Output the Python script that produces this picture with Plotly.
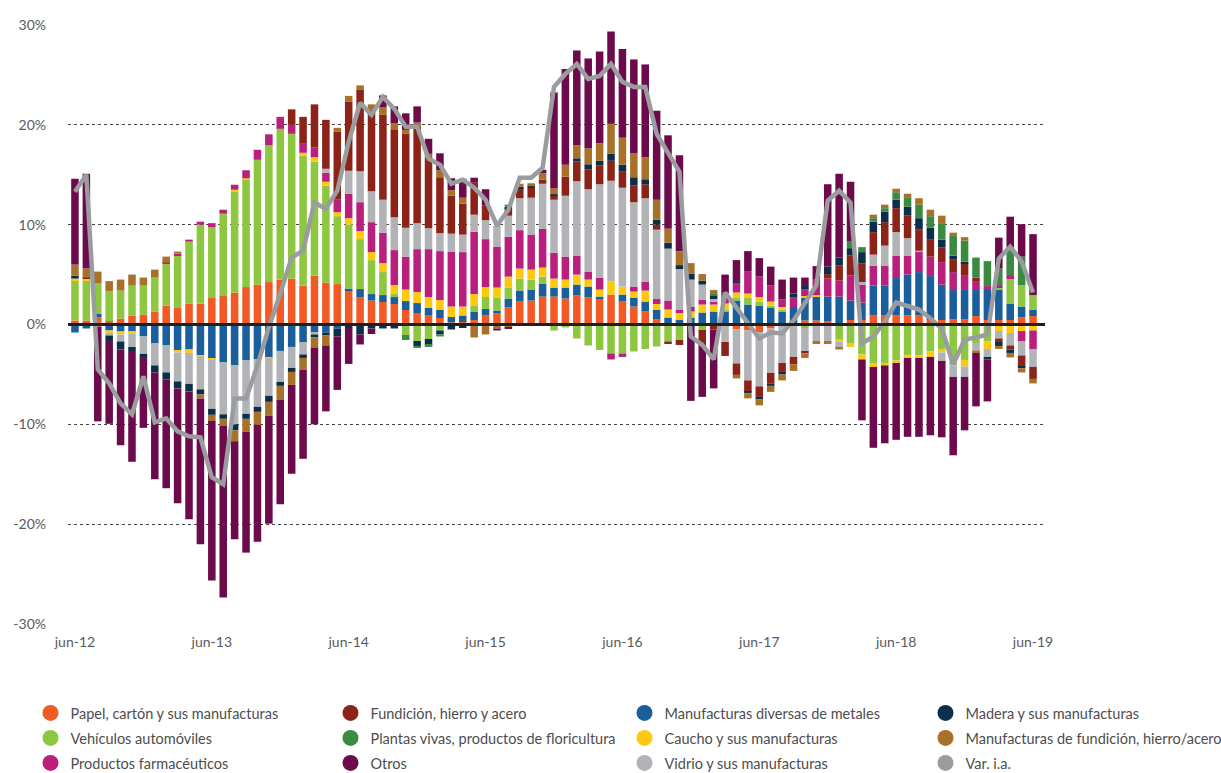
import plotly.graph_objects as go

# ---------------- data ----------------
MESES = ["ene", "feb", "mar", "abr", "may", "jun", "jul", "ago", "sep", "oct", "nov", "dic"]
months = [f"{MESES[(5 + i) % 12]}-{12 + (5 + i) // 12:02d}" for i in range(85)]  # jun-12 .. jun-19

tick_labels = ["jun-12", "jun-13", "jun-14", "jun-15", "jun-16", "jun-17", "jun-18", "jun-19"]
y_ticks = [30, 20, 10, 0, -10, -20, -30]
y_tick_text = ["30%", "20%", "10%", "0%", "-10%", "-20%", "-30%"]

papel = [0.4, 0.4, 0.7, 0.35, 0.6, 0.9, 1.0, 1.3, 1.9, 1.65,
         2.1, 2.1, 2.65, 2.85, 3.2, 3.75, 4.0, 4.25, 4.5, 4.6,
         3.9, 4.9, 4.2, 4.05, 3.45, 2.75, 2.4, 2.25, 2.05, 1.45,
         1.15, 0.95, 0.65, 0.2, 0.25, 0.45, 0.95, 1.1, 1.7, 2.3,
         2.4, 2.8, 2.8, 2.6, 2.9, 2.75, 2.6, 3.0, 2.3, 1.8,
         1.3, 0.55, 0.15, 0, 0, 0, 0, 0, -0.5, -0.6,
         -0.75, -0.4, 0, 0, 0.4, 0.4, 0.3, 0, 0.45, 0.45,
         0.9, 0.9, 0.9, 0.9, 0.9, 0.45, 0.45, 0.5, 0.5, 0.85,
         0.45, 0.45, 0.45, 0.7, 0.85]

metales = [-0.8, -0.4, 0.4, -0.6, -0.7, -0.75, -1.2, -1.9, -2.1, -2.6,
           -2.5, -3.1, -3.45, -3.8, -4.1, -3.6, -3.5, -3.35, -2.65, -2.25,
           -1.8, -0.8, -0.8, -0.4, 0.15, 0.8, 0.65, 0.7, 0.7, 0.9,
           1.0, 0.7, 0.8, 0.55, 0.65, 0.8, 0.6, 0.3, 0.9, 1.1,
           1.1, 1.3, 0.9, 1.1, 1.1, 1.05, 0.2, 0, 0.7, 0.9,
           1.0, 0.9, 0.55, 0.45, 0.7, 1.2, 1.3, 1.3, 2.4, 2.0,
           1.9, 1.75, 1.3, 1.75, 2.35, 2.45, 2.5, 2.8, 1.95, 1.75,
           3.0, 3.0, 3.75, 4.1, 4.35, 4.4, 3.55, 2.95, 2.95, 2.6,
           3.1, 3.1, 1.65, 1.1, 0.65]

vehiculos = [4.0, 4.0, 3.0, 3.0, 2.8, 3.0, 2.9, 3.4, 4.2, 5.2,
             6.2, 7.9, 7.1, 8.25, 10.1, 10.8, 12.5, 13.7, 15.1, 14.5,
             13.0, 11.4, 9.7, 6.8, 6.4, 5.0, 3.4, 2.3, 0.3, -1.05,
             -1.65, -1.45, -0.6, 0, 0, 0.6, 1.2, 1.3, 1.1, 1.2,
             1.0, 0.7, -0.6, -0.3, -1.4, -2.1, -2.55, -2.9, -2.9, -2.7,
             -2.45, -2.2, -1.7, -1.55, -0.15, -0.55, 0, 0.2, 0.25, 0.65,
             0.4, 0.15, 0.2, 0, -0.35, 0, 0, -1.5, -1.85, -3.0,
             -3.85, -3.95, -3.6, -3.1, -3.1, -2.7, -2.45, -4.1, -3.55, -1.85,
             -1.7, 0.15, 2.45, 2.15, 1.45]

caucho = [0.2, 0.2, -0.2, -0.25, -0.3, -0.2, 0, 0, 0, -0.2,
          -0.35, -0.1, -0.1, 0, 0.2, 0.1, 0, -0.05, 0, 0,
          0.3, 0.45, 0.4, 0.4, 0.65, 0.8, 0.8, 0.9, 0.9, 1.15,
          1.1, 1.1, 1.0, 1.05, 0.9, 1.2, 1.0, 1.0, 1.1, 1.0,
          1.0, 0.9, 0.9, 0.8, 1.0, 0.7, 0.7, 1.3, 0.8, 0.6,
          1.1, 0.6, 0.8, 0.7, 0.6, 0.8, 0.7, 0.6, 0.55, 0.45,
          0.45, 0.4, 0.25, 0, 0.1, 0.1, 0, -0.2, -0.4, -0.5,
          -0.4, -0.15, -0.25, -0.25, -0.25, -0.55, -0.35, 0, -0.65, 0,
          -0.75, -0.65, -0.85, -0.65, -0.6]

farma = [0, 0, 0, 0, 0, 0, 0, 0, 0.1, 0.25,
         0.2, 0.3, 0.4, 0.4, 0.5, 0.8, 1.0, 1.1, 1.2, 0.9,
         0.9, 1.0, 0.9, 1.3, 2.45, 2.9, 3.0, 3.05, 3.5, 3.3,
         4.3, 4.8, 4.9, 5.5, 5.45, 6.25, 4.8, 4.1, 4.0, 3.85,
         3.5, 3.9, 2.6, 2.3, 1.9, 0.8, 1.2, -0.6, -0.35, 0.5,
         0.9, 0.5, 0.9, 0.3, 0.5, 0.5, 0.25, 0.8, 0.9, 2.25,
         2.05, 1.6, 0.75, 1.0, 0.65, 1.6, 1.8, 1.6, 2.5, 1.8,
         2.0, 2.0, 2.25, 1.9, 2.05, 1.95, 2.25, 1.8, 1.5, 0.9,
         0.3, 0.15, 0.4, -1.05, -1.85]

vidrio = [0, 0, 0, -0.25, -0.7, -1.3, -1.75, -2.2, -2.7, -2.9,
          -3.1, -3.3, -4.9, -5.2, -5.9, -5.35, -4.75, -3.75, -3.1, -2.1,
          -1.2, -0.2, 0.4, 0, 2.3, 3.1, 3.1, 3.3, 3.3, 2.9,
          2.6, 2.1, 1.8, 1.8, 1.75, 1.7, 1.9, 2.1, 2.1, 3.2,
          3.7, 4.5, 5.3, 6.1, 7.45, 8.25, 9.35, 10.1, 9.9, 8.45,
          8.35, 6.95, 5.2, 4.1, 2.7, 1.5, 0.3, -1.75, -3.4, -5.0,
          -5.45, -4.45, -3.85, -3.25, -2.35, -1.65, -1.65, -0.65, 0, 0.25,
          1.1, 2.0, 2.35, 1.75, 0.1, 0, -0.85, -1.15, -1.05, -0.75,
          -0.8, -0.75, -1.25, -1.4, -1.8]

fundicion = [0, 0.1, 0, 0, 0, 0, 0, 0, 0, 0,
             0, 0, 0, 0, 0, 0, 0, 0, 0, 1.55,
             2.7, 4.3, 4.9, 6.75, 6.9, 8.15, 8.2, 8.5, 8.8, 9.4,
             9.7, 7.1, 5.6, 3.8, 3.1, 3.2, 1.5, 0, 0.75, 1.0,
             1.0, 0.4, 0.4, 1.9, 2.0, 2.0, 1.9, 2.0, 1.6, 1.7,
             1.4, 0.5, -0.25, -0.5, 0, -1.5, -0.5, -1.4, -1.15, -1.15,
             -1.05, -1.05, -0.9, -0.75, -0.2, 0, 0.45, 1.5, 2.0, 1.85,
             2.25, 2.35, 2.4, 2.25, 2.15, 1.75, 1.45, 1.3, 1.2, 0.35,
             0, -0.35, -0.4, -1.15, -1.2]

madera = [0.3, 0, 0, -0.55, -0.8, -0.5, -0.4, -0.7, -0.7, -0.7,
          -0.75, -0.5, -0.6, -0.45, -0.6, -0.5, -0.5, -0.6, -0.4, -0.4,
          -0.35, -0.3, -0.3, -0.8, -0.35, -1.0, -0.4, -0.4, -0.4, 0,
          -0.5, -0.6, -0.4, -0.5, -0.35, 0, 0, 0, 0.15, 0.15,
          0.15, 0, 0.15, 0, 0.3, 0.5, 0.45, 0.7, 0.7, 0.8,
          0.5, 0.5, 0.6, 0.4, 0.6, 0.4, 0.4, 0.2, 0.25, -0.15,
          -0.25, -0.25, -0.25, 0.35, 0.45, 0, 0.75, 0.8, 0.75, 1.15,
          1.05, 1.05, 0.85, 0.9, 1.1, 1.15, 0.8, 0.35, 0.15, 0,
          -0.25, -0.4, -0.35, -0.15, 0]

plantas = [0, 0, 0, 0, 0, 0, 0, 0, 0, 0,
           0, 0, 0, 0, 0, 0, 0, 0, 0, 0,
           0, 0, 0, 0, 0, 0, 0, 0, 0, -0.5,
           -0.2, -0.2, -0.2, 0, 0, 0, 0, 0, 0.2, 0,
           0, 0, 0, 0, 0, 0, 0, 0, 0, 0,
           0, 0, 0, 0, 0, 0, 0.1, 0, 0, 0,
           0, 0, 0, 0, 0, 0, 0, 0, 0.65, 0.5,
           0.35, 0.35, 0.75, 0.95, 1.35, 1.15, 1.65, 2.05, 2.1, 2.0,
           2.5, 1.75, 2.8, 2.85, 0]

manuf_fundicion = [1.1, 0.9, 1.2, 1.0, 1.1, 1.1, 0.8, 0.8, 0.6, 0.2,
                   0, -0.4, -0.6, -0.7, -1.1, -1.3, -1.3, -1.4, -1.35, -1.3,
                   -1.2, -1.0, -1.0, 0.4, 0.6, 0.45, 0.5, 0.75, 0.6, 0.4,
                   0.4, 0.35, 0.7, 0.55, 0.6, -1.3, -1.0, -0.4, -0.3, 0.3,
                   0.3, 0.65, 0.6, 1.2, 1.3, 1.6, 1.75, 3.0, 2.7, 2.4,
                   2.2, 2.0, 1.4, 1.4, 1.05, 0.65, 0.4, 0, -0.35, -0.5,
                   -0.6, -0.6, -0.6, -0.65, -0.45, -0.3, -0.3, -0.15, 0, 0,
                   0.35, 0.35, 0.35, 0.35, 0.65, 0.65, 0.75, 0.25, 0.35, -0.25,
                   0, -0.3, -0.45, -0.4, -0.45]

otros = [8.6, 9.5, -9.5, -8.3, -9.6, -11.0, -7.0, -10.7, -10.9, -11.5,
         -12.8, -14.6, -16.0, -17.2, -9.8, -12.1, -11.7, -10.8, -10.5, -8.9,
         -8.9, -7.7, -6.6, -5.35, -3.6, -1.0, -0.55, 1.2, 1.7, 1.65,
         1.6, 1.5, 1.7, 1.2, 1.9, 0.5, 1.6, -0.2, -0.1, 0,
         0, 0.35, 9.6, 9.6, 9.5, 9.0, 9.2, 9.25, 8.9, 9.4,
         9.3, 8.9, 9.35, 9.6, -7.5, -5.2, -5.9, 1.9, 2.1, 2.0,
         1.85, 1.9, 2.0, 1.6, 0.75, 1.3, 8.25, 8.4, 6.0, -6.1,
         -8.1, -7.8, -7.7, -7.9, -7.9, -7.85, -7.65, -7.85, -5.35, -5.35,
         -4.2, 3.1, 3.05, 3.25, 6.1]

var_ia = [13.3, 15.0, -4.5, -5.9, -7.9, -9.0, -5.2, -9.8, -9.4, -10.7,
          -11.2, -11.3, -15.3, -16.0, -7.4, -7.4, -4.1, -0.3, 3.1, 6.7,
          7.4, 12.2, 11.6, 13.4, 18.3, 22.2, 21.0, 22.8, 21.6, 19.8,
          19.8, 16.6, 16.0, 14.1, 14.5, 13.7, 12.5, 9.9, 11.5, 14.7,
          14.7, 15.7, 23.8, 25.1, 26.1, 24.6, 24.9, 26.1, 24.3, 23.8,
          23.8, 19.1, 17.2, 15.3, -1.2, -2.05, -3.5, 3.2, 1.7, 0.2,
          -1.4, -0.8, -0.9, 0.4, 2.1, 3.9, 12.4, 13.4, 12.2, -1.9,
          -1.2, 0.3, 2.2, 1.9, 1.5, 0.6, -0.4, -4.0, -1.5, -1.3,
          -1.0, 6.6, 7.8, 6.3, 3.2]

# (name, values, color, legend row, legend column) in stacking order
series = [
    ("Papel, cartón y sus manufacturas", papel, "#F15A24", 0, 0),
    ("Manufacturas diversas de metales", metales, "#1B5E9C", 0, 2),
    ("Vehículos automóviles", vehiculos, "#8DC63F", 1, 0),
    ("Caucho y sus manufacturas", caucho, "#FDC90F", 1, 2),
    ("Productos farmacéuticos", farma, "#B91F7C", 2, 0),
    ("Vidrio y sus manufacturas", vidrio, "#B2B3B6", 2, 2),
    ("Fundición, hierro y acero", fundicion, "#8B2318", 0, 1),
    ("Madera y sus manufacturas", madera, "#0B2F4B", 0, 3),
    ("Plantas vivas, productos de floricultura", plantas, "#3A8A42", 1, 1),
    ("Manufacturas de fundición, hierro/acero", manuf_fundicion, "#A8712A", 1, 3),
    ("Otros", otros, "#6C0A4B", 2, 1),
]
line_name, line_color, line_row, line_col = "Var. i.a.", "#9A9C9F", 2, 3

FONT = "Lato"
TXT = "#4D4D4D"
FIG_W, FIG_H = 1221, 773
LEGEND_COL_PX = [30.5, 330.5, 624.5, 925.5]
LEGEND_ROW_PX = [713, 738, 763]

fig = go.Figure()

for name, vals, color, row, col in series:
    fig.add_trace(go.Bar(x=months, y=vals, name=name, marker=dict(color=color, line=dict(width=0)),
                         showlegend=False))

fig.add_trace(go.Scatter(x=months, y=var_ia, name=line_name, mode="lines",
                         line=dict(color=line_color, width=4.5), showlegend=False))

# legend entries (round markers like the original), one small legend per grid cell
legend_layouts = {}
entries = [(n, c, r, k) for n, v, c, r, k in series] + [(line_name, line_color, line_row, line_col)]
for idx, (name, color, row, col) in enumerate(entries):
    lid = "legend" if idx == 0 else f"legend{idx + 1}"
    fig.add_trace(go.Scatter(x=[None], y=[None], name=name, mode="markers",
                             marker=dict(symbol="circle", size=16, color=color),
                             legend=lid, showlegend=True))
    legend_layouts[lid] = dict(
        orientation="h", xref="container", yref="container",
        x=LEGEND_COL_PX[col] / FIG_W, y=1 - LEGEND_ROW_PX[row] / FIG_H,
        xanchor="left", yanchor="middle",
        font=dict(family=FONT, size=14.5, color=TXT), itemsizing="trace",
        bgcolor="rgba(0,0,0,0)")

fig.add_shape(type="line", xref="paper", x0=0, x1=1, yref="y", y0=0, y1=0,
              line=dict(color="#231F20", width=3), layer="above")

fig.update_layout(
    width=FIG_W, height=FIG_H,
    margin=dict(l=68, r=176, t=25, b=149, autoexpand=False),
    barmode="relative", bargap=0.34,
    plot_bgcolor="white", paper_bgcolor="white",
    font=dict(family=FONT, size=14, color=TXT),
    xaxis=dict(type="category", range=[-0.61, 85.05], tickmode="array",
               tickvals=tick_labels, ticktext=tick_labels, showgrid=False,
               showline=False, ticks="", tickfont=dict(size=14, color="#5A5A5A"),
               ticklabelstandoff=8),
    yaxis=dict(range=[-30, 30], tickmode="array", tickvals=y_ticks, ticktext=y_tick_text,
               showgrid=True, gridcolor="#444444", griddash="dot", gridwidth=1,
               zeroline=False, showline=False, ticks="",
               tickfont=dict(size=14, color="#5A5A5A"), ticklabelstandoff=21),
    showlegend=True,
    **legend_layouts,
)

fig.write_html("out.html", config={"displayModeBar": False},
               post_script="document.body.style.margin='0px';")
